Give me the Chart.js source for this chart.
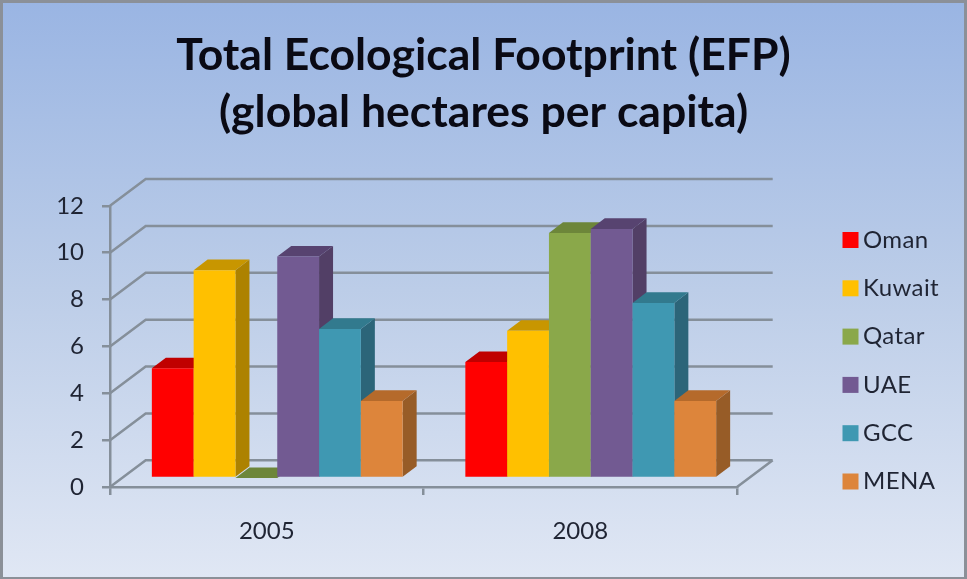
<!DOCTYPE html>
<html>
<head>
<meta charset="utf-8">
<script src="https://cdn.jsdelivr.net/npm/chart.js@4"></script>
<style>
    html, body { margin: 0; padding: 0; }
    #wrap {
        position: relative;
        width: 967px;
        height: 579px;
        box-sizing: border-box;
        border: 3px solid #8b9098;
        border-bottom-width: 2px;
        background: linear-gradient(180deg, #9ab5e3 0%, #bccde8 50%, #e0e7f4 100%);
    }
    canvas { position: absolute; left: -3px; top: -3px; }
</style>
</head>
<body>
<div id="wrap"><canvas id="chart" width="967" height="579"></canvas></div>
<script>
const years = ['2005', '2008'];
const seriesNames = ['Oman', 'Kuwait', 'Qatar', 'UAE', 'GCC', 'MENA'];
const oman = [4.68, 4.95];
const kuwait = [8.87, 6.28];
const qatar = [0, 10.46];
const uae = [9.45, 10.63];
const gcc = [6.36, 7.47];
const mena = [3.29, 3.29];
const seriesValues = [oman, kuwait, qatar, uae, gcc, mena];
const yTicks = [0, 2, 4, 6, 8, 10, 12];

const frontColors = ['#ff0000', '#ffc000', '#8aa84a', '#725a92', '#3f98b2', '#dd853b'];
const topColors = ['#c00000', '#c89600', '#6d863a', '#574370', '#327a8e', '#b56a2b'];
const sideColors = ['#a00000', '#ad8200', '#5c7232', '#523f66', '#2c6579', '#975c27'];

const gridColor = '#858f9a';
const gridWidth = 2.5;
const textColor = '#1f2433';

// 벽 깊이, 막대가 앞면에서 떨어진 거리, 막대 옆면 깊이
const wallDx = 35.7, wallDy = -26.7;
const barDx = 10.5, barDy = -9;
const sideDx = 14, sideDy = -10.6;

function poly(ctx, color, pts) {
    ctx.fillStyle = color;
    ctx.beginPath();
    pts.forEach((p, i) => (i ? ctx.lineTo(p[0], p[1]) : ctx.moveTo(p[0], p[1])));
    ctx.closePath();
    ctx.fill();
}

const depthPlugin = {
    id: 'depth',
    // 막대는 왼쪽부터 겹쳐야 해서 그리는 순서를 여기서 직접 돌림
    beforeDatasetsDraw(chart) {
        const { ctx, chartArea, scales } = chart;
        const { left, right, bottom } = chartArea;
        ctx.save();
        ctx.strokeStyle = gridColor;
        ctx.lineWidth = gridWidth;
        ctx.beginPath();
        // 뒷벽 눈금선 + 왼쪽 벽 대각선
        scales.y.ticks.forEach((t) => {
            const y = scales.y.getPixelForValue(t.value);
            ctx.moveTo(left, y);
            ctx.lineTo(left + wallDx, y + wallDy);
            ctx.lineTo(right + wallDx, y + wallDy);
        });
        // 바닥 오른쪽 모서리
        ctx.moveTo(right, bottom);
        ctx.lineTo(right + wallDx, bottom + wallDy);
        ctx.stroke();

        ctx.translate(barDx, barDy);
        chart.data.datasets.forEach((ds, i) => {
            const meta = chart.getDatasetMeta(i);
            meta.data.forEach((bar) => {
                const l = bar.x - bar.width / 2;
                const r = bar.x + bar.width / 2;
                poly(ctx, sideColors[i], [
                    [r, bar.y], [r + sideDx, bar.y + sideDy],
                    [r + sideDx, bar.base + sideDy], [r, bar.base],
                ]);
                poly(ctx, topColors[i], [
                    [l, bar.y], [l + sideDx, bar.y + sideDy],
                    [r + sideDx, bar.y + sideDy], [r, bar.y],
                ]);
            });
            meta.controller.draw();
        });
        ctx.restore();
        return false;
    },
};

// 범례 (기본 범례는 상자-글자 간격이 고정이라 직접 그림)
const legendPlugin = {
    id: 'sideLegend',
    afterDraw(chart) {
        const ctx = chart.ctx;
        ctx.save();
        ctx.font = '24px Lato';
        ctx.letterSpacing = '0.4px';
        ctx.textBaseline = 'middle';
        chart.data.datasets.forEach((ds, i) => {
            const y = 240 + i * 48.3;
            ctx.fillStyle = frontColors[i];
            ctx.fillRect(842.5, y - 8, 16, 16);
            ctx.fillStyle = textColor;
            ctx.fillText(ds.label, 863, y);
        });
        ctx.restore();
    },
};

new Chart(document.getElementById('chart').getContext('2d'), {
    type: 'bar',
    data: {
        labels: years,
        datasets: seriesNames.map((name, i) => ({
            label: name,
            data: seriesValues[i],
            backgroundColor: frontColors[i],
            borderWidth: 0,
            categoryPercentage: 0.8,
            barPercentage: 1,
        })),
    },
    options: {
        responsive: false,
        animation: false,
        events: [],
        plugins: {
            legend: { display: false },
            tooltip: { enabled: false },
            title: {
                display: true,
                text: ['Total Ecological Footprint (EFP)', '(global hectares per capita)'],
                color: '#0a0a14',
                font: { family: 'Lato', size: 44.5, weight: 'bold', lineHeight: 1.29 },
                padding: { top: 27, bottom: 64 },
            },
        },
        scales: {
            x: {
                afterFit(scale) { scale.height = 92; },
                grid: { drawOnChartArea: false, color: gridColor, lineWidth: gridWidth, tickLength: 8 },
                border: { color: gridColor, width: gridWidth },
                ticks: { color: textColor, font: { family: 'Lato', size: 24 }, padding: 22 },
            },
            y: {
                min: 0,
                max: yTicks[yTicks.length - 1],
                afterFit(scale) { scale.width = 110; },
                afterBuildTicks(scale) { scale.ticks = yTicks.map((v) => ({ value: v })); },
                grid: { drawOnChartArea: false, color: gridColor, lineWidth: gridWidth, tickLength: 8 },
                border: { color: gridColor, width: gridWidth },
                ticks: { color: textColor, font: { family: 'Lato', size: 24 }, padding: 18 },
            },
            // 범례 자리만 비워 두는 축 (제목은 캔버스 전체 폭 기준으로 가운데)
            legendSpace: {
                type: 'linear',
                position: 'right',
                afterFit(scale) { scale.width = 230; },
                grid: { display: false },
                border: { display: false },
                ticks: { display: false },
            },
        },
    },
    plugins: [depthPlugin, legendPlugin],
});
</script>
</body>
</html>
